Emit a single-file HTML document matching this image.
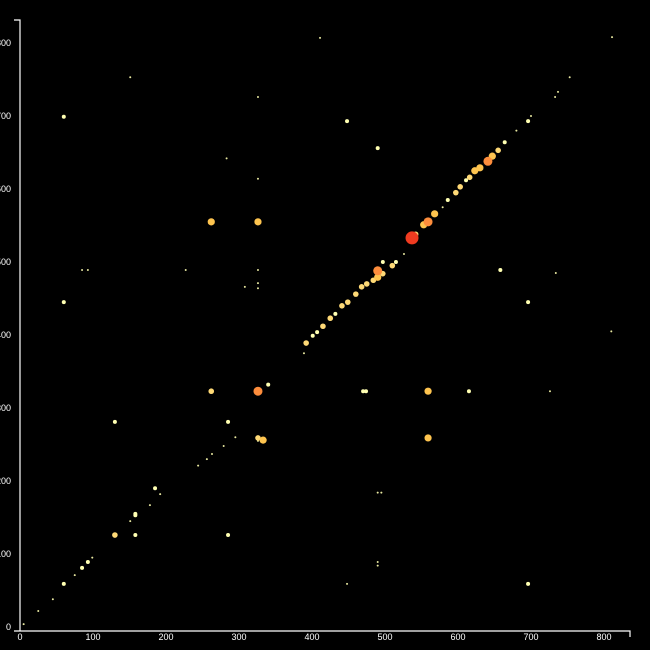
<!DOCTYPE html>
<html><head><meta charset="utf-8"><style>
html,body{margin:0;padding:0;background:#000;}
svg{display:block;}
text{font-family:"Liberation Sans",sans-serif;font-size:9px;fill:#fff;}
</style></head><body>
<svg id="chart" width="650" height="650">
<rect width="650" height="650" fill="#000"/>
<g id="axes"></g>
<g id="points"></g>
</svg>
<script>
const xTicks = [0,100,200,300,400,500,600,700,800];
const yTicks = [0,100,200,300,400,500,600,700,800];
const xVals = [5,25,45,60,75,85,93,99,151,158,178,185,192,244,256,263,279,295,333,326,340,389,392,401,407,415,425,432,441,449,460,468,475,484,490,490,497,497,510,515,526,537,542,553,559,568,579,586,597,603,611,616,623,630,641,647,655,664,680,700,733,737,753,
262,326,262,326,326,559,559,60,448,60,696,696,130,130,158,285,158,448,696,490,85,93,227,326,658,734,326,326,308,470,474,615,726,285,490,495,490,490,151,326,326,283,811,411,810];
const yVals = [4,22,38,59,71,81,89,95,145,155,167,190,182,221,230,237,248,260,256,255,332,375,389,399,404,412,423,429,440,445,456,466,470,475,479,488,484,500,495,500,511,533,538,551,555,566,575,585,595,603,612,616,625,629,638,645,653,664,680,700,726,733,753,
555,555,323,323,259,323,259,699,693,445,445,693,281,126,126,126,153,59,59,656,489,489,489,489,489,485,471,464,466,323,323,323,323,281,184,184,89,84,753,726,614,642,808,807,405];
const sizes = [1,1,1,2,1,2,2,1,1,2,1,2,1,1,1,1,1,1,4,1,2,1,3,2,2,3,3,2,3,3,3,3,3,3,4,5,3,2,3,2,1,6,3,4,5,4,1,2,3,3,2,3,4,4,5,4,3,2,1,1,1,1,1,
4,4,3,5,3,4,4,2,2,2,2,2,2,3,2,2,2,1,2,2,1,1,1,1,2,1,1,1,1,2,2,2,1,2,1,1,1,1,1,1,1,1,1,1,1];
const xS = v => 20 + v*0.73;
const yS = v => 627 - v*0.73;
const rS = s => [0,1,2,2.8,3.6,4.5,6.5][s];
const cS = s => ['#ffffb2','#e8e8a0','#ffffb2','#fed976','#fec44f','#fd8d3c','#f03b20'][s];
const NS='http://www.w3.org/2000/svg';
const ax=document.getElementById('axes');
const dom=document.createElementNS(NS,'path');
dom.setAttribute('d','M14,20H20V631M14,631H630V637');
dom.setAttribute('stroke','#fff');dom.setAttribute('fill','none');dom.setAttribute('stroke-width','1.2');


ax.appendChild(dom);
xTicks.forEach(t=>{
  const e=document.createElementNS(NS,'text');
  e.setAttribute('x',xS(t));e.setAttribute('y',640);e.setAttribute('text-anchor','middle');
  e.textContent=t;
  
  
  ax.appendChild(e);
});
yTicks.forEach(t=>{
  const e=document.createElementNS(NS,'text');
  e.setAttribute('x',11);e.setAttribute('y',yS(t)+3);e.setAttribute('text-anchor','end');
  e.textContent=t;
  
  
  ax.appendChild(e);
});
const pg=document.getElementById('points');
const order=sizes.map((s,i)=>i).sort((a,b)=>sizes[a]-sizes[b]);
order.forEach(i=>{
  const c=document.createElementNS(NS,'circle');
  c.setAttribute('cx',xS(xVals[i]));c.setAttribute('cy',yS(yVals[i]));
  c.setAttribute('r',rS(sizes[i]));c.setAttribute('fill',cS(sizes[i]));
  
  
  pg.appendChild(c);
});
</script>
</body></html>
